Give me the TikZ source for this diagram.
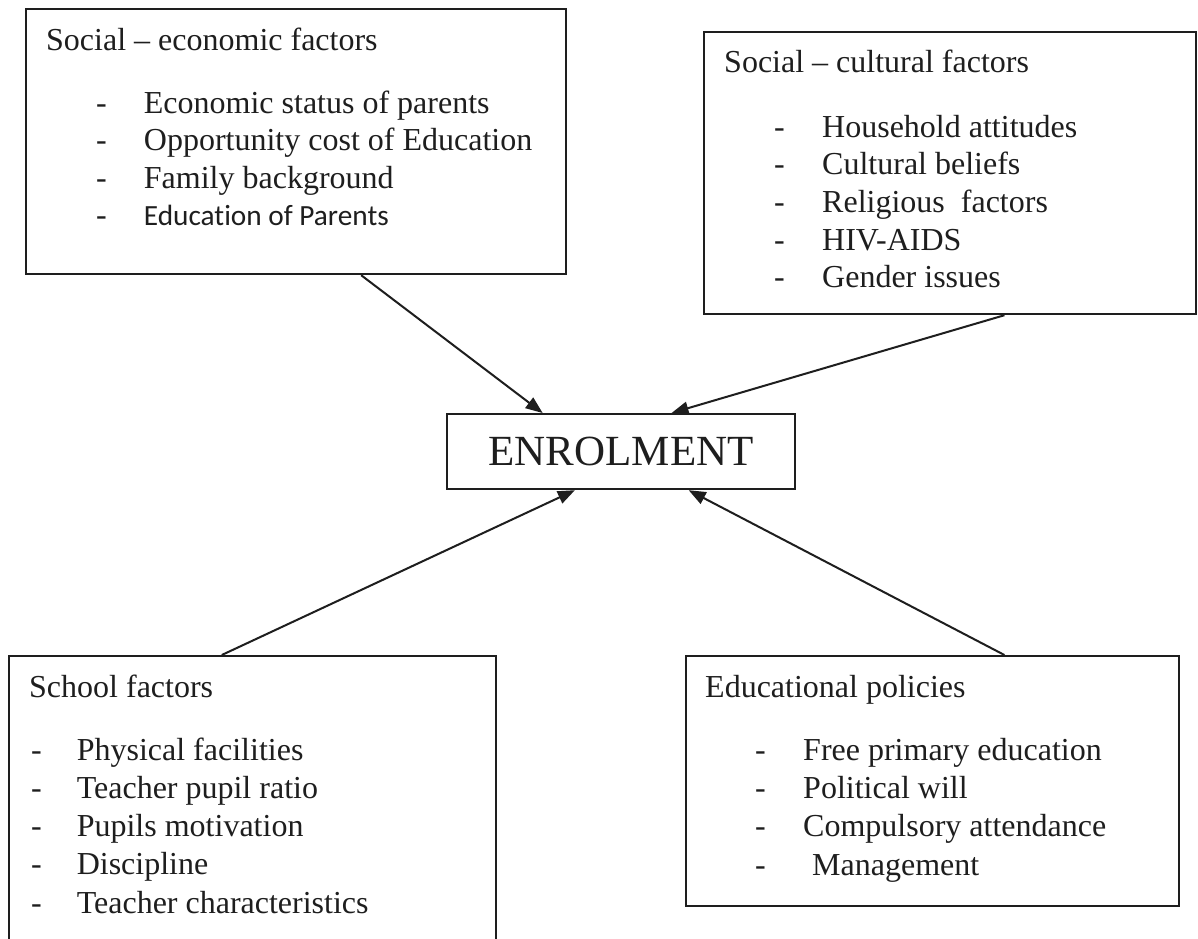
\documentclass[tikz,border=0pt]{standalone}
\usepackage{fontspec}
\setmainfont{Liberation Serif}
\newfontfamily\calibrifont[Ligatures=NoCommon]{Carlito}
\usetikzlibrary{arrows.meta,calc}
\definecolor{ink}{RGB}{30,30,30}
\begin{document}
\begin{tikzpicture}[x=1pt,y=-1pt,
  box/.style={draw=ink, line width=2.2pt, rectangle, inner sep=0pt, anchor=north west},
  txt/.style={anchor=base west, inner sep=0pt, text=ink, font=\fontsize{32}{38}\selectfont},
  arr/.style={draw=ink, line width=2pt, -{Triangle[length=17pt,width=13pt]}}]
\clip (0,0) rectangle (1198,938);
\fill[white] (0,0) rectangle (1198,938);
% boxes
\node[box, minimum width=540pt, minimum height=265pt] (se) at (25,8) {};
\node[box, minimum width=492pt, minimum height=282pt] (sc) at (703,31) {};
\node[box, minimum width=348pt, minimum height=75pt, text=ink, font=\fontsize{43}{50}\selectfont] (en) at (446,413) {ENROLMENT};
\node[box, minimum width=487pt, minimum height=320pt] (sch) at (8,655) {};
\node[box, minimum width=493pt, minimum height=250pt] (ep) at (685,655) {};
% social-economic
\node[txt] (se-h) at (46,50) {Social -- economic factors};
\foreach \t [count=\i] in {Economic status of parents, Opportunity cost of Education, Family background} {
  \node[txt] (se-d\i) at (96,{113+37.5*(\i-1)}) {-};
  \node[txt] (se-t\i) at (143.7,{113+37.5*(\i-1)}) {\t};
}
\node[txt] (se-d4) at (96,225.5) {-};
\node[txt, font=\calibrifont\fontsize{29.3}{35}\selectfont] (se-t4) at (143.7,225.5) {Education of Parents};
% social-cultural
\node[txt] (sc-h) at (724,72) {Social -- cultural factors};
\foreach \t [count=\i] in {Household attitudes, Cultural beliefs, Religious~ factors, HIV-AIDS, Gender issues} {
  \node[txt] (sc-d\i) at (774,{137+37.7*(\i-1)}) {-};
  \node[txt] (sc-t\i) at (822,{137+37.7*(\i-1)}) {\t};
}
% school
\node[txt] (sch-h) at (29,697) {School factors};
\foreach \t [count=\i] in {Physical facilities, Teacher pupil ratio, Pupils motivation, Discipline, Teacher characteristics} {
  \node[txt] (sch-d\i) at (31,{760+38.25*(\i-1)}) {-};
  \node[txt] (sch-t\i) at (76.6,{760+38.25*(\i-1)}) {\t};
}
% educational policies
\node[txt] (ep-h) at (705,697) {Educational policies};
\foreach \t [count=\i] in {Free primary education, Political will, Compulsory attendance} {
  \node[txt] (ep-d\i) at (755,{760+38.3*(\i-1)}) {-};
  \node[txt] (ep-t\i) at (803,{760+38.3*(\i-1)}) {\t};
}
\node[txt] (ep-d4) at (755,875) {-};
\node[txt] (ep-t4) at (812,875) {Management};
% connector points
\coordinate (a1) at ($(se.south west)!0.62!(se.south east)$);
\coordinate (a2) at ($(sc.south west)!0.61!(sc.south east)$);
\coordinate (a3) at ($(sch.north west)!0.437!(sch.north east)$);
\coordinate (a4) at ($(ep.north west)!0.645!(ep.north east)$);
\coordinate (e1) at ($(en.north west)!0.276!(en.north east)$);
\coordinate (e2) at ($(en.north west)!0.644!(en.north east)$);
\coordinate (e3) at ($(en.south west)!0.368!(en.south east)$);
\coordinate (e4) at ($(en.south west)!0.693!(en.south east)$);
\draw[arr] (a1) -- (e1);
\draw[arr] (a2) -- (e2);
\draw[arr] (a3) -- (e3);
\draw[arr] (a4) -- (e4);
\end{tikzpicture}
\end{document}
